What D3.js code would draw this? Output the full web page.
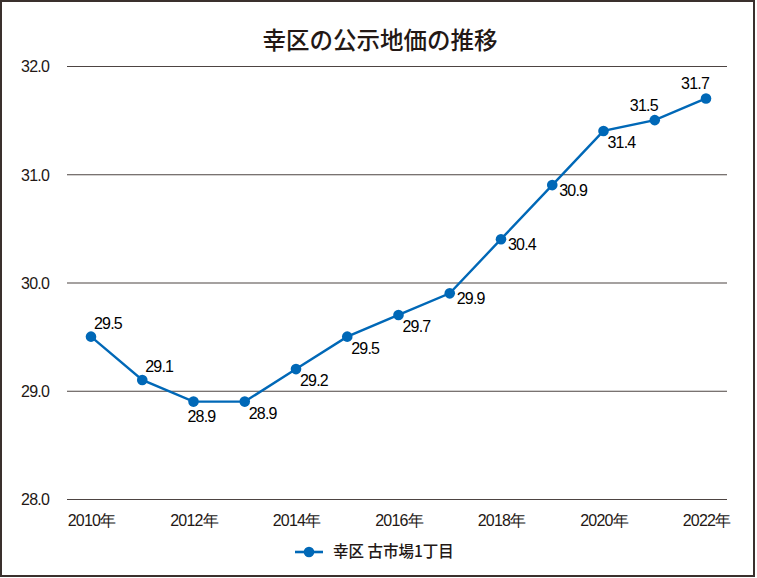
<!DOCTYPE html>
<html><head><meta charset="utf-8">
<script src="https://cdn.jsdelivr.net/npm/d3@7"></script>
<style>
html,body{margin:0;padding:0;background:#fff;}
svg{display:block;}
</style></head>
<body>
<svg id="c" width="757" height="578"></svg>
<script>
const title = "幸区の公示地価の推移";
const seriesName = "幸区 古市場1丁目";
const years = [2010,2011,2012,2013,2014,2015,2016,2017,2018,2019,2020,2021,2022];
const values = [29.5,29.1,28.9,28.9,29.2,29.5,29.7,29.9,30.4,30.9,31.4,31.5,31.7];
const yTicks = [28,29,30,31,32];
const xTicks = [2010,2012,2014,2016,2018,2020,2022];
const labelPlacement = ["ne","ne","s","se","se","se","se","e","e","e","se","nw","nw"];

const svg = d3.select("#c");
const W = 757, H = 578;
const blue = "#0068b7", ink = "#231815", grid = "#4d4442";
const numFont = "'Liberation Sans', Arial, sans-serif";
const cjkFont = "'Noto Sans CJK JP', sans-serif";

svg.append("rect").attr("x",1).attr("y",1).attr("width",W-4).attr("height",H-3)
  .attr("fill","#fff").attr("stroke","#3a302d").attr("stroke-width",2);

svg.append("text").attr("x",380).attr("y",49).attr("text-anchor","middle")
  .attr("font-family",cjkFont).attr("font-weight",500).attr("font-size",23.5).attr("fill",ink).text(title);

const x = d3.scaleLinear().domain([2010,2022]).range([91,706]);
const y = d3.scaleLinear().domain([28,32]).range([499,66]);

const yAxis = d3.axisLeft(y).tickValues(yTicks).tickSize(-(727-67)).tickFormat(d3.format(".1f"));
const gy = svg.append("g").attr("transform","translate(67,0)").call(yAxis);
gy.select(".domain").remove();
gy.selectAll(".tick line").attr("stroke",grid).attr("stroke-width",1.2);
gy.selectAll(".tick text").attr("x",-18).attr("dy","0.36em").attr("font-family",numFont)
  .attr("font-size",16).attr("fill",ink).attr("letter-spacing","-0.8");

const xAxis = d3.axisBottom(x).tickValues(xTicks).tickSize(0).tickFormat(d => d + "年");
const gx = svg.append("g").attr("transform","translate(0,499)").call(xAxis);
gx.select(".domain").remove();
gx.selectAll(".tick text").attr("y",21).attr("dy","0.36em").attr("font-family",numFont)
  .attr("font-size",16).attr("fill",ink).attr("letter-spacing","-0.8");

const data = years.map((yr,i)=>({yr, v:values[i], p:labelPlacement[i]}));
svg.append("path").datum(data).attr("fill","none").attr("stroke",blue).attr("stroke-width",2.4)
  .attr("d", d3.line().x(d=>x(d.yr)).y(d=>y(d.v)));
svg.selectAll("circle.pt").data(data).join("circle").attr("class","pt")
  .attr("cx",d=>x(d.yr)).attr("cy",d=>y(d.v)).attr("r",5.3).attr("fill",blue);

const off = {ne:[3,-8,"start"], s:[8,20,"middle"], se:[4,17,"start"], e:[7,11,"start"], nw:[3,-9,"end"]};
svg.selectAll("text.lbl").data(data).join("text").attr("class","lbl")
  .attr("x",d=>x(d.yr)+off[d.p][0]).attr("y",d=>y(d.v)+off[d.p][1])
  .attr("text-anchor",d=>off[d.p][2])
  .attr("font-family",numFont).attr("font-size",16).attr("fill","#000").attr("letter-spacing","-0.8")
  .text(d=>d3.format(".1f")(d.v));

const lg = svg.append("g");
lg.append("line").attr("x1",295).attr("x2",323).attr("y1",552).attr("y2",552).attr("stroke",blue).attr("stroke-width",2.6);
lg.append("circle").attr("cx",309).attr("cy",552).attr("r",5.3).attr("fill",blue);
lg.append("text").attr("x",333).attr("y",552).attr("dy","0.35em").attr("font-family",cjkFont)
  .attr("font-weight",500).attr("font-size",15.5).attr("fill",ink).text(seriesName);
</script>
</body></html>
